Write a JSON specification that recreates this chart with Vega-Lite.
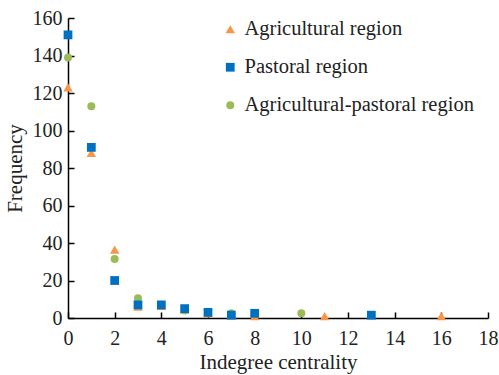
{
  "$schema": "https://vega.github.io/schema/vega-lite/v6.json",
  "width": 420,
  "height": 300,
  "autosize": {"type": "none"},
  "padding": {"left": 68, "top": 18, "right": 11, "bottom": 57},
  "background": "white",
  "config": {
    "view": {"stroke": null},
    "font": "Liberation Serif",
    "style": {
      "guide-label": {"font": "Liberation Serif", "fontSize": 20, "fill": "#222"},
      "guide-title": {"font": "Liberation Serif", "fontSize": 21, "fill": "#222"}
    }
  },
  "data": {
    "values": [
      {"region": "Agricultural region", "x": 0, "y": 123},
      {"region": "Agricultural region", "x": 1, "y": 88},
      {"region": "Agricultural region", "x": 2, "y": 36.5},
      {"region": "Agricultural region", "x": 3, "y": 6},
      {"region": "Agricultural region", "x": 4, "y": 6.5},
      {"region": "Agricultural region", "x": 5, "y": 4.5},
      {"region": "Agricultural region", "x": 6, "y": 2.5},
      {"region": "Agricultural region", "x": 7, "y": 1.5},
      {"region": "Agricultural region", "x": 8, "y": 1},
      {"region": "Agricultural region", "x": 11, "y": 1},
      {"region": "Agricultural region", "x": 16, "y": 1},
      {"region": "Pastoral region", "x": 0, "y": 151},
      {"region": "Pastoral region", "x": 1, "y": 91},
      {"region": "Pastoral region", "x": 2, "y": 20},
      {"region": "Pastoral region", "x": 3, "y": 7},
      {"region": "Pastoral region", "x": 4, "y": 7},
      {"region": "Pastoral region", "x": 5, "y": 5},
      {"region": "Pastoral region", "x": 6, "y": 3},
      {"region": "Pastoral region", "x": 7, "y": 1.5},
      {"region": "Pastoral region", "x": 8, "y": 2.5},
      {"region": "Pastoral region", "x": 13, "y": 1.5},
      {"region": "Agricultural-pastoral region", "x": 0, "y": 139},
      {"region": "Agricultural-pastoral region", "x": 1, "y": 113},
      {"region": "Agricultural-pastoral region", "x": 2, "y": 31.5},
      {"region": "Agricultural-pastoral region", "x": 3, "y": 10.5},
      {"region": "Agricultural-pastoral region", "x": 4, "y": 7},
      {"region": "Agricultural-pastoral region", "x": 5, "y": 4},
      {"region": "Agricultural-pastoral region", "x": 6, "y": 2.5},
      {"region": "Agricultural-pastoral region", "x": 7, "y": 2.5},
      {"region": "Agricultural-pastoral region", "x": 10, "y": 2.5}
    ]
  },
  "mark": {"type": "point", "filled": true, "opacity": 1},
  "encoding": {
    "x": {
      "field": "x", "type": "quantitative",
      "scale": {"domain": [0, 18], "nice": false, "zero": true},
      "axis": {
        "title": "Indegree centrality",
        "values": [0, 2, 4, 6, 8, 10, 12, 14, 16, 18],
        "grid": false,
        "domainColor": "#000", "domainWidth": 1.5,
        "tickColor": "#000", "tickWidth": 1.5, "tickSize": -6,
        "labelPadding": 16,
        "labelFont": "Liberation Serif", "labelFontSize": 20, "labelColor": "#222",
        "labelFlush": false,
        "titleFont": "Liberation Serif", "titleFontSize": 21, "titleFontWeight": "normal", "titleColor": "#222",
        "titlePadding": 3
      }
    },
    "y": {
      "field": "y", "type": "quantitative",
      "scale": {"domain": [0, 160], "nice": false},
      "axis": {
        "title": "Frequency",
        "values": [0, 20, 40, 60, 80, 100, 120, 140, 160],
        "grid": false,
        "domainColor": "#000", "domainWidth": 1.5,
        "tickColor": "#000", "tickWidth": 1.5, "tickSize": -6,
        "labelPadding": 12,
        "labelFont": "Liberation Serif", "labelFontSize": 20, "labelColor": "#222",
        "labelFlush": false,
        "titleFont": "Liberation Serif", "titleFontSize": 21, "titleFontWeight": "normal", "titleColor": "#222",
        "titlePadding": 7
      }
    },
    "color": {
      "field": "region", "type": "nominal",
      "scale": {
        "domain": ["Agricultural region", "Pastoral region", "Agricultural-pastoral region"],
        "range": ["#F79646", "#0070C0", "#9BBB59"]
      },
      "legend": {
        "orient": "none", "legendX": 152, "legendY": 1,
        "title": null,
        "labelFont": "Liberation Serif", "labelFontSize": 20.5, "labelColor": "#222",
        "labelLimit": 400,
        "rowPadding": 17, "symbolSize": 32, "labelOffset": 4, "symbolStrokeWidth": 0
      }
    },
    "shape": {
      "field": "region", "type": "nominal",
      "scale": {
        "domain": ["Agricultural region", "Pastoral region", "Agricultural-pastoral region"],
        "range": ["triangle-up", "square", "circle"]
      },
      "legend": null
    },
    "size": {
      "field": "region", "type": "nominal",
      "scale": {
        "domain": ["Agricultural region", "Pastoral region", "Agricultural-pastoral region"],
        "range": [90, 64, 55]
      },
      "legend": null
    },
    "order": {"field": "region", "sort": "ascending"}
  }
}
